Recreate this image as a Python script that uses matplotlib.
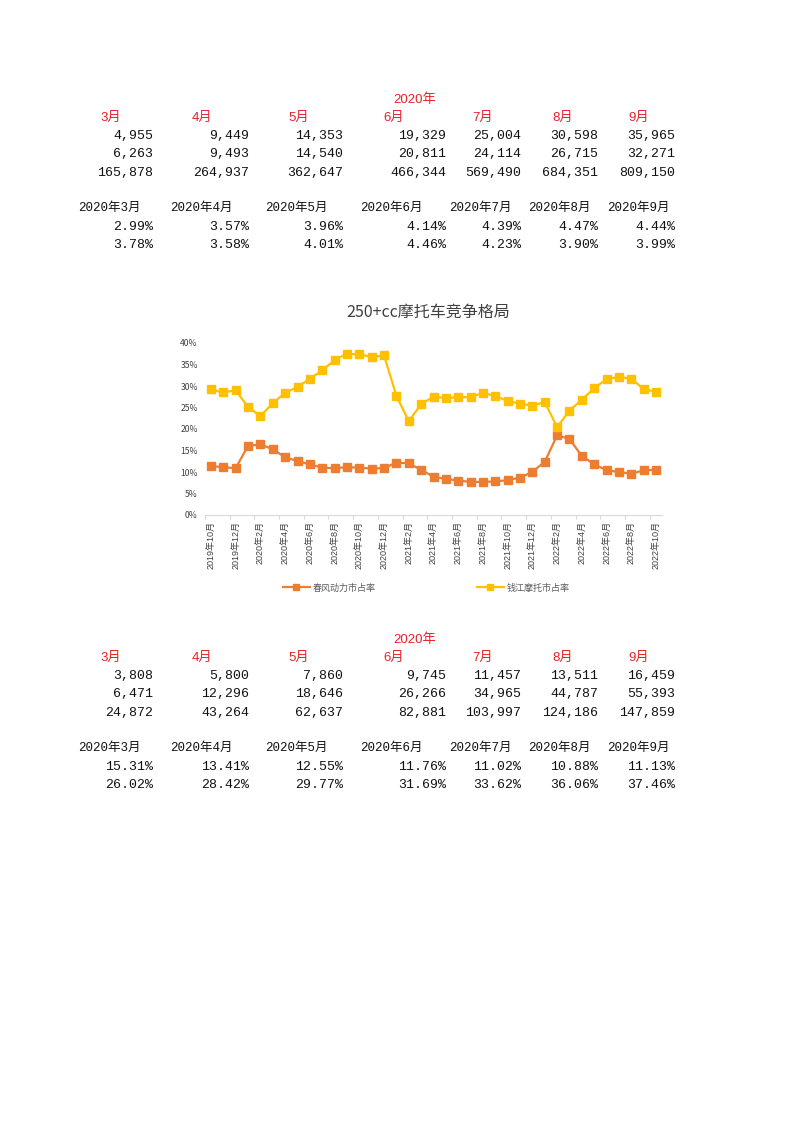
import matplotlib
matplotlib.use("Agg")
import matplotlib.pyplot as plt
from matplotlib.lines import Line2D
from matplotlib.ticker import PercentFormatter

plt.rcParams['font.family'] = ['Noto Sans CJK SC', 'DejaVu Sans']

# ---------------- data ----------------
months = []
for y, m in [(2019, 10), (2019, 11), (2019, 12)] + [(2020, i) for i in range(1, 13)] + \
        [(2021, i) for i in range(1, 13)] + [(2022, i) for i in range(1, 11)]:
    months.append(f"{y}年{m}月")

cfmoto_share = [11.4, 11.1, 10.9, 16.1, 16.4, 15.31, 13.41, 12.55, 11.76, 11.02, 10.88, 11.13,
                11.0, 10.8, 10.9, 12.2, 12.0, 10.5, 8.9, 8.4, 8.0, 7.7, 7.7, 7.8, 8.1, 8.7,
                10.0, 12.4, 18.5, 17.7, 13.7, 11.8, 10.4, 10.0, 9.6, 10.4, 10.5]
qianjiang_share = [29.2, 28.5, 29.0, 25.1, 23.0, 26.02, 28.42, 29.77, 31.69, 33.62, 36.06, 37.46,
                   37.4, 36.7, 37.1, 27.7, 21.8, 25.8, 27.5, 27.2, 27.4, 27.4, 28.4, 27.7, 26.5,
                   25.9, 25.4, 26.3, 20.4, 24.3, 26.8, 29.5, 31.6, 32.1, 31.7, 29.3, 28.6]
series_names = ["春风动力市占率", "钱江摩托市占率"]
chart_title = "250+cc摩托车竞争格局"

table_year = "2020年"
table_months = ["3月", "4月", "5月", "6月", "7月", "8月", "9月"]
table_full_months = ["2020年3月", "2020年4月", "2020年5月", "2020年6月", "2020年7月", "2020年8月", "2020年9月"]

t1_row1 = ["4,955", "9,449", "14,353", "19,329", "25,004", "30,598", "35,965"]
t1_row2 = ["6,263", "9,493", "14,540", "20,811", "24,114", "26,715", "32,271"]
t1_row3 = ["165,878", "264,937", "362,647", "466,344", "569,490", "684,351", "809,150"]
t1_pct1 = ["2.99%", "3.57%", "3.96%", "4.14%", "4.39%", "4.47%", "4.44%"]
t1_pct2 = ["3.78%", "3.58%", "4.01%", "4.46%", "4.23%", "3.90%", "3.99%"]

t2_row1 = ["3,808", "5,800", "7,860", "9,745", "11,457", "13,511", "16,459"]
t2_row2 = ["6,471", "12,296", "18,646", "26,266", "34,965", "44,787", "55,393"]
t2_row3 = ["24,872", "43,264", "62,637", "82,881", "103,997", "124,186", "147,859"]
t2_pct1 = ["15.31%", "13.41%", "12.55%", "11.76%", "11.02%", "10.88%", "11.13%"]
t2_pct2 = ["26.02%", "28.42%", "29.77%", "31.69%", "33.62%", "36.06%", "37.46%"]

# ---------------- figure ----------------
W, H = 793, 1122
fig = plt.figure(figsize=(W / 100, H / 100), dpi=100)

RED = '#E8202A'
NUM_FONT = ['Liberation Mono', 'Noto Sans CJK SC']
HDR_FONT = ['Liberation Sans', 'Noto Sans CJK SC']

month_x = [100, 192, 288, 383, 472, 552, 628]
num_right = [153, 249, 343, 446, 521, 598, 675]
full_left = [78, 170, 265, 360, 449, 528, 607]


def ftxt(x, y, s, **kw):
    fig.text(x / W, 1 - y / H, s, **kw)


def draw_table(y0, r1, r2, r3, p1, p2):
    ftxt(415, y0, table_year, color=RED, fontsize=9.5, ha='center', va='center', family=HDR_FONT)
    for i in range(7):
        ftxt(month_x[i], y0 + 18, table_months[i], color=RED, fontsize=9.5, ha='left', va='center',
             family=HDR_FONT)
        for j, row in enumerate([r1, r2, r3]):
            ftxt(num_right[i], y0 + 36 + j * 18.3, row[i], fontsize=9.5, ha='right', va='center',
                 family=NUM_FONT, color='#111111')
        ftxt(full_left[i], y0 + 108, table_full_months[i], fontsize=9, ha='left', va='center',
             family=NUM_FONT, color='#111111')
        for j, row in enumerate([p1, p2]):
            ftxt(num_right[i], y0 + 127 + j * 18.3, row[i], fontsize=9.5, ha='right', va='center',
                 family=NUM_FONT, color='#111111')


draw_table(100, t1_row1, t1_row2, t1_row3, t1_pct1, t1_pct2)
draw_table(640, t2_row1, t2_row2, t2_row3, t2_pct1, t2_pct2)

# ---------------- chart ----------------
left, right, top, bottom = 204.8, 662.2, 343, 515
ax = fig.add_axes([left / W, 1 - bottom / H, (right - left) / W, (bottom - top) / H])
x = list(range(len(months)))
ax.plot(x, cfmoto_share, color='#ED7D31', lw=1.6, marker='s', ms=6, label=series_names[0], zorder=3)
ax.plot(x, qianjiang_share, color='#FFC000', lw=1.6, marker='s', ms=6, label=series_names[1], zorder=3)
ax.set_xlim(-0.5, len(months) - 0.5)
ax.set_ylim(0, 40)
ax.set_yticks(range(0, 41, 5))
ax.yaxis.set_major_formatter(PercentFormatter(decimals=0))
ax.tick_params(axis='y', length=0, labelsize=6.2, labelcolor='#404040', pad=5)
ax.set_xticks(x[::2])
ax.set_xticklabels(months[::2], rotation=90, fontsize=6.5, color='#404040', family=HDR_FONT)
ax.tick_params(axis='x', which='major', length=0, pad=4)
ax.set_xticks([i - 0.5 for i in range(0, len(months) + 1, 2)], minor=True)
ax.tick_params(axis='x', which='minor', length=3, color='#D9D9D9', width=0.8)
for s in ['top', 'right', 'left']:
    ax.spines[s].set_visible(False)
ax.spines['bottom'].set_color('#D9D9D9')
ax.spines['bottom'].set_linewidth(0.8)

ftxt(428, 312, chart_title, fontsize=11.5, color='#404040', ha='center', va='center')

# legend
handles = [Line2D([], [], color='#ED7D31', lw=1.6, marker='s', ms=5),
           Line2D([], [], color='#FFC000', lw=1.6, marker='s', ms=5)]
fig.legend(handles, series_names, loc='center', bbox_to_anchor=(426 / W, 1 - 588 / H), ncol=2,
           frameon=False, fontsize=6.5, labelcolor='#595959', handlelength=3.0,
           columnspacing=11.2, handletextpad=0.3)

fig.savefig('out.png', dpi=100, facecolor='white')
